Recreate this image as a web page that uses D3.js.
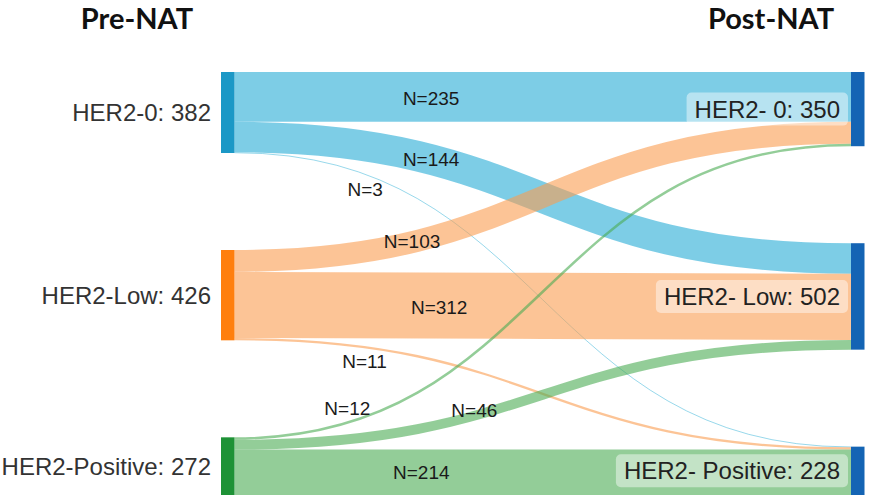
<!DOCTYPE html>
<html><head><meta charset="utf-8">
<script src="https://cdn.jsdelivr.net/npm/d3@7"></script>
<style>body{margin:0;background:#fff} svg{display:block}</style>
</head><body>
<svg id="chart" width="873" height="503"></svg>
<script>
// ---- data ----
const stages = ["Pre-NAT", "Post-NAT"];
const preNodes = ["HER2-0", "HER2-Low", "HER2-Positive"];
const postNodes = ["HER2- 0", "HER2- Low", "HER2- Positive"];
const linkSource = [0, 0, 0, 1, 1, 1, 2, 2, 2];
const linkTarget = [0, 1, 2, 0, 1, 2, 0, 1, 2];
const linkValue  = [235, 144, 3, 103, 312, 11, 12, 46, 214];

// ---- styling / layout config ----
const preColors  = ["#1b98c6", "#ff7f0e", "#1e9236"];
const postColor  = "#1464b4";
const linkColors = ["#26acd5", "#fa9d50", "#4bac53"];
const linkOpacity = 0.6;
// where each link label sits: fraction of horizontal span, vertical nudge
const labelFrac = [0.319, 0.319, 0.212, 0.288, 0.332, 0.211, 0.183, 0.389, 0.303];
const labelDy   = [2, 0, 15, -1, 2, 14, -15, -5, 0];

const W = 873, H = 503;
const yTop = 72, yBot = 495;
const nodeW = 13.5, nodePad = 97;

const svg = d3.select("#chart");
const colX = d3.scalePoint().domain(stages).range([221, 851]);

const preVals = preNodes.map((_, i) => d3.sum(linkValue.filter((v, k) => linkSource[k] === i)));
const postVals = postNodes.map((_, j) => d3.sum(linkValue.filter((v, k) => linkTarget[k] === j)));
const total = d3.sum(linkValue);
const yScale = d3.scaleLinear().domain([0, total]).range([0, (yBot - yTop) - 2 * nodePad]);

function layoutCol(vals, x0) {
  let cum = 0;
  return vals.map((v, i) => {
    const y0 = yTop + yScale(cum) + i * nodePad;
    cum += v;
    return { x0, x1: x0 + nodeW, y0, y1: y0 + yScale(v), value: v };
  });
}
const pre = layoutCol(preVals, colX(stages[0]));
const post = layoutCol(postVals, colX(stages[1]));

// links
const links = linkValue.map((v, k) => ({ k, value: v, s: linkSource[k], t: linkTarget[k], w: yScale(v) }));
pre.forEach((n, i) => {
  let off = n.y0;
  links.filter(l => l.s === i).sort((a, b) => a.t - b.t).forEach(l => { l.sy = off + l.w / 2; off += l.w; });
});
post.forEach((n, j) => {
  let off = n.y0;
  links.filter(l => l.t === j).sort((a, b) => a.s - b.s).forEach(l => { l.ty = off + l.w / 2; off += l.w; });
});

const xs = pre[0].x1, xt = post[0].x0;
const linkGen = d3.linkHorizontal().source(d => [xs, d.sy]).target(d => [xt, d.ty]);

svg.append("g").selectAll("path").data(links).join("path")
  .attr("d", linkGen)
  .attr("fill", "none")
  .attr("stroke", d => linkColors[d.s])
  .attr("stroke-opacity", linkOpacity)
  .attr("stroke-width", d => Math.max(0.8, d.w));

// nodes
svg.append("g").selectAll("rect").data(pre).join("rect")
  .attr("x", d => d.x0).attr("y", d => d.y0)
  .attr("width", d => d.x1 - d.x0).attr("height", d => d.y1 - d.y0)
  .attr("fill", (d, i) => preColors[i]);
svg.append("g").selectAll("rect").data(post).join("rect")
  .attr("x", d => d.x0).attr("y", d => d.y0)
  .attr("width", d => d.x1 - d.x0).attr("height", d => d.y1 - d.y0)
  .attr("fill", postColor);

// link labels: position along the bezier center line
function bez(p0, p1, p2, p3, t) {
  const u = 1 - t;
  return u * u * u * p0 + 3 * u * u * t * p1 + 3 * u * t * t * p2 + t * t * t * p3;
}
const xm = (xs + xt) / 2;
svg.append("g").selectAll("text").data(links).join("text")
  .each(function (d) {
    const tx = xs + labelFrac[d.k] * (xt - xs);
    let lo = 0, hi = 1;
    for (let i = 0; i < 40; i++) {
      const m = (lo + hi) / 2;
      if (bez(xs, xm, xm, xt, m) < tx) lo = m; else hi = m;
    }
    const t = (lo + hi) / 2;
    const y = bez(d.sy, d.sy, d.ty, d.ty, t);
    d3.select(this).attr("x", tx).attr("y", y + labelDy[d.k]);
  })
  .attr("text-anchor", "middle")
  .attr("dominant-baseline", "central")
  .attr("font-family", "Liberation Sans, Arial, sans-serif")
  .attr("font-size", 19)
  .attr("fill", "#1a1a1a")
  .text(d => "N=" + d.value);

// left node labels
svg.append("g").selectAll("text").data(pre).join("text")
  .attr("x", d => d.x0 - 10)
  .attr("y", d => (d.y0 + d.y1) / 2)
  .attr("text-anchor", "end")
  .attr("dominant-baseline", "central")
  .attr("font-family", "Liberation Sans, Arial, sans-serif")
  .attr("font-size", 24)
  .attr("fill", "#333")
  .text((d, i) => preNodes[i] + ": " + d.value);

// right node labels with translucent box
const rl = svg.append("g").selectAll("g").data(post).join("g");
rl.append("text")
  .attr("x", d => d.x0 - 11)
  .attr("y", d => (d.y0 + d.y1) / 2)
  .attr("text-anchor", "end")
  .attr("dominant-baseline", "central")
  .attr("font-family", "Liberation Sans, Arial, sans-serif")
  .attr("font-size", 24)
  .attr("fill", "#222")
  .text((d, i) => postNodes[i] + ": " + d.value);
rl.each(function () {
  const g = d3.select(this);
  const bb = g.select("text").node().getBBox();
  g.insert("rect", "text")
    .attr("x", bb.x - 8).attr("y", bb.y - 3)
    .attr("width", bb.width + 16).attr("height", bb.height + 6)
    .attr("rx", 5)
    .attr("fill", "#fff").attr("fill-opacity", 0.45);
});

// stage titles
const titleX = [137, 771];
svg.append("g").selectAll("text").data(stages).join("text")
  .attr("x", (d, i) => titleX[i])
  .attr("y", 29)
  .attr("text-anchor", "middle")
  .attr("font-family", "Lato, 'Open Sans', sans-serif")
  .attr("font-weight", "bold")
  .attr("font-size", 29)
  .attr("fill", "#111")
  .text(d => d);
</script>
</body></html>
